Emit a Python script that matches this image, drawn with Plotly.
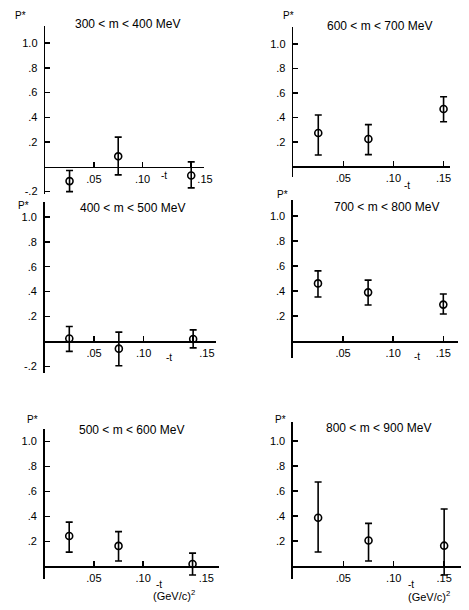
import plotly.graph_objects as go

# ---------------- data ----------------
T = [0.025, 0.075, 0.15]  # -t  (GeV/c)^2

TITLES = ["300 < m < 400 MeV", "600 < m < 700 MeV",
          "400 < m < 500 MeV", "700 < m < 800 MeV",
          "500 < m < 600 MeV", "800 < m < 900 MeV"]

P_300_400 = [-0.115, 0.085, -0.07]
HI_300_400 = [-0.03, 0.24, 0.04]
LO_300_400 = [-0.20, -0.065, -0.17]

P_600_700 = [0.272, 0.223, 0.468]
HI_600_700 = [0.419, 0.34, 0.568]
LO_600_700 = [0.092, 0.095, 0.364]

P_400_500 = [0.024, -0.058, 0.019]
HI_400_500 = [0.12, 0.075, 0.093]
LO_400_500 = [-0.08, -0.195, -0.052]

P_700_800 = [0.462, 0.39, 0.292]
HI_700_800 = [0.562, 0.488, 0.377]
LO_700_800 = [0.353, 0.289, 0.217]

P_500_600 = [0.242, 0.163, 0.018]
HI_500_600 = [0.353, 0.277, 0.105]
LO_500_600 = [0.113, 0.042, -0.07]

P_800_900 = [0.387, 0.205, 0.164]
HI_800_900 = [0.672, 0.342, 0.456]
LO_800_900 = [0.113, 0.042, -0.07]

SERIES = [(P_300_400, HI_300_400, LO_300_400),
          (P_600_700, HI_600_700, LO_600_700),
          (P_400_500, HI_400_500, LO_400_500),
          (P_700_800, HI_700_800, LO_700_800),
          (P_500_600, HI_500_600, LO_500_600),
          (P_800_900, HI_800_900, LO_800_900)]

X_TICKS = [0.05, 0.10, 0.15]
X_TICKTEXT = [".05", ".10", ".15"]
Y_TICKS = [-0.2, 0.2, 0.4, 0.6, 0.8, 1.0]
Y_TICKTEXT = ["-.2", ".2", ".4", ".6", ".8", "1.0"]

# ---------------- layout (pixels in the 469x610 page) ----------------
W, H = 469, 610
# (x0px, x1px, ytop_px, ybot_px, xmax, ymin, ymax)
BOXES = [
    (46.0, 208.0, 26.0, 195.0, 0.1636, -0.217, 1.139),
    (298.3, 458.0, 26.7, 178.0, 0.1566, -0.087, 1.143),
    (45.3, 220.0, 203.3, 375.0, 0.1733, -0.25, 1.12),
    (298.0, 465.7, 201.7, 360.0, 0.1644, -0.133, 1.127),
    (45.3, 222.7, 431.7, 583.3, 0.1767, -0.106, 1.10),
    (298.0, 469.0, 425.0, 583.0, 0.1667, -0.103, 1.148),
]
# in the left-hand panels the ".15" label sits to the right of its tick
LABEL_PAD = ["\u2007\u2007\u2007\u2007\u00a0", "", "\u2007\u2007\u2007\u2007\u00a0", "",
             "\u2007\u2007\u2007\u2007\u00a0", ""]
TITLE_POS = [(130, 24), (386, 26), (135, 209), (393, 208), (134, 432.5), (385, 431)]
PSTAR_POS = [(21, 16), (293, 16), (24, 207), (287, 196), (33, 422), (285, 422)]
MINUS_T = [(0.122, 9), (0.114, 19), (0.126, 16), (0.1235, 15), (0.116, 18), (0.117, 18)]
GEV_POS = [(177, 599), (436, 600)]


def px_x(p):
    return p / W


def px_y(p):
    return 1 - p / H


FONT = "Liberation Sans"
fig = go.Figure()
layout = dict(width=W, height=H, margin=dict(l=0, r=0, t=0, b=0),
              paper_bgcolor="white", plot_bgcolor="white", showlegend=False,
              font=dict(family=FONT, size=11, color="black"))
annotations = []

for i, ((p, hi, lo), box) in enumerate(zip(SERIES, BOXES)):
    n = "" if i == 0 else str(i + 1)
    x0, x1, yt, yb, xmax, ymin, ymax = box
    err_up = [h - v for h, v in zip(hi, p)]
    err_dn = [v - l for v, l in zip(p, lo)]
    fig.add_trace(go.Scatter(
        x=T, y=p, mode="markers", xaxis="x" + n, yaxis="y" + n,
        marker=dict(symbol="circle-open", size=7, color="black", line=dict(width=1.6)),
        error_y=dict(type="data", symmetric=False, array=err_up, arrayminus=err_dn,
                     color="black", thickness=1.6, width=3.5),
        hoverinfo="skip"))
    zero_px = yt + (ymax - 0) / (ymax - ymin) * (yb - yt)
    xt_txt = X_TICKTEXT[:-1] + [LABEL_PAD[i] + X_TICKTEXT[-1]]
    layout["xaxis" + n] = dict(
        domain=[px_x(x0), min(px_x(x1), 1.0)], range=[0, xmax], anchor="free",
        position=px_y(zero_px), showline=True, linecolor="black", linewidth=1.5,
        showgrid=False, zeroline=False, ticks="inside", ticklen=5, tickwidth=1.5,
        tickcolor="black", tickvals=X_TICKS, ticktext=xt_txt, fixedrange=True,
        tickfont=dict(family=FONT, size=11, color="black"), ticklabelstandoff=1)
    yv = [v for v in Y_TICKS if ymin <= v <= ymax]
    yt_txt = [t for v, t in zip(Y_TICKS, Y_TICKTEXT) if ymin <= v <= ymax]
    layout["yaxis" + n] = dict(
        domain=[px_y(yb), px_y(yt)], range=[ymin, ymax], anchor="x" + n, showline=True,
        linecolor="black", linewidth=1.5, showgrid=False, zeroline=False,
        ticks="inside", ticklen=5, tickwidth=1.5, tickcolor="black",
        tickvals=yv, ticktext=yt_txt, fixedrange=True,
        tickfont=dict(family=FONT, size=11, color="black"), ticklabelstandoff=4)
    tx, ty = TITLE_POS[i]
    annotations.append(dict(text=TITLES[i], x=px_x(tx), y=px_y(ty), xref="paper", yref="paper",
                            xanchor="center", yanchor="middle", showarrow=False,
                            font=dict(family=FONT, size=12, color="black")))
    sx, sy = PSTAR_POS[i]
    annotations.append(dict(text="P*", x=px_x(sx), y=px_y(sy), xref="paper", yref="paper",
                            xanchor="center", yanchor="middle", showarrow=False, borderpad=0,
                            font=dict(family=FONT, size=10, color="black")))
    mx, moff = MINUS_T[i]
    annotations.append(dict(text="-t", x=mx, y=0, xref="x" + n, yref="y" + n,
                            xanchor="center", yanchor="middle", yshift=-moff, showarrow=False,
                            font=dict(family=FONT, size=10, color="black")))

for gx, gy in GEV_POS:
    annotations.append(dict(text="(GeV/c)<sup>2</sup>", x=px_x(gx), y=px_y(gy),
                            xref="paper", yref="paper", xanchor="center", yanchor="middle",
                            showarrow=False, font=dict(family=FONT, size=11, color="black")))

layout["annotations"] = annotations
fig.update_layout(**layout)
fig.write_html(
    "out.html",
    config={"displayModeBar": False, "staticPlot": True},
    post_script="document.body.style.margin='0px';"
                "document.documentElement.style.overflow='hidden';"
                "document.body.style.overflow='hidden';")
